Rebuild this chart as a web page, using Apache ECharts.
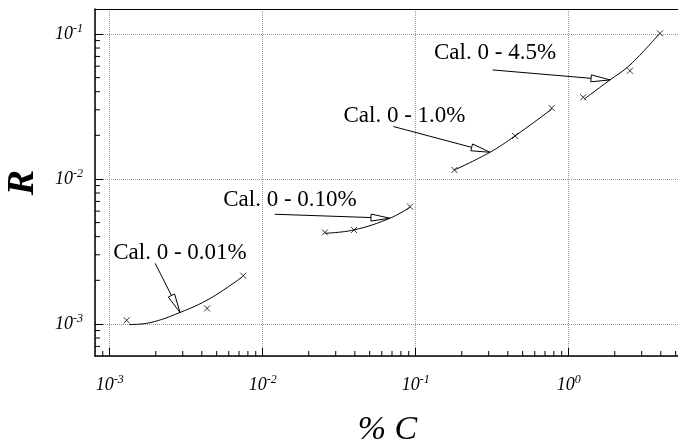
<!DOCTYPE html>
<html>
<head>
<meta charset="utf-8">
<script src="https://cdn.jsdelivr.net/npm/echarts@6/dist/echarts.min.js"></script>
<style>
html, body { margin: 0; padding: 0; background: #fff; }
#chart { width: 678px; height: 447px; }
</style>
</head>
<body>
<div id="chart"></div>
<script>
// measured points (%C, R) for each calibration range
var cal1X = [0.00129, 0.00433, 0.00746]
var cal1R = [0.00106, 0.00128, 0.00215]
var cal2X = [0.0255, 0.0395, 0.0918]
var cal2R = [0.00428, 0.00445, 0.00644]
var cal3X = [0.179, 0.446, 0.774]
var cal3R = [0.01153, 0.01982, 0.0308]
var cal4X = [1.245, 2.515, 3.95]
var cal4R = [0.0366, 0.0558, 0.101]

// fitted curves
var fit1X = [0.00134, 0.00183, 0.00288, 0.00453, 0.00730]
var fit1R = [0.00099, 0.00102, 0.00120, 0.00150, 0.00210]
var fit2X = [0.0255, 0.0395, 0.0679, 0.0918]
var fit2R = [0.00422, 0.00445, 0.00536, 0.00638]
var fit3X = [0.179, 0.306, 0.446, 0.774]
var fit3R = [0.01153, 0.01528, 0.01982, 0.0303]
var fit4X = [1.259, 1.862, 2.515, 3.85]
var fit4R = [0.0355, 0.0482, 0.0611, 0.0984]

// annotations: label centre, arrow tail, arrow tip
var annoText = ['Cal. 0 - 0.01%', 'Cal. 0 - 0.10%', 'Cal. 0 - 1.0%', 'Cal. 0 - 4.5%']
var annoLabel = [[0.00288, 0.00309], [0.01507, 0.00716], [0.0845, 0.0274], [0.330, 0.074]]
var annoTail = [[0.00198, 0.00262], [0.0120, 0.00571], [0.0715, 0.0230], [0.318, 0.0565]]
var annoTip = [[0.00288, 0.00120], [0.0679, 0.00536], [0.306, 0.01528], [1.862, 0.0482]]

// axis ranges and minor ticks
var xMin = 0.000801
var xMax = 5.34
var yMin = 0.000601
var yMax = 0.1487
var xMinorTicks = [0.0009,
  0.002, 0.003, 0.004, 0.005, 0.006, 0.007, 0.008, 0.009,
  0.02, 0.03, 0.04, 0.05, 0.06, 0.07, 0.08, 0.09,
  0.2, 0.3, 0.4, 0.5, 0.6, 0.7, 0.8, 0.9,
  2, 3, 4, 5]
var yMinorTicks = [0.0007, 0.0008, 0.0009,
  0.002, 0.003, 0.004, 0.005, 0.006, 0.007, 0.008, 0.009,
  0.02, 0.03, 0.04, 0.05, 0.06, 0.07, 0.08, 0.09]

var serif = 'Liberation Serif'

function zip(xs, ys) {
  return xs.map(function(x, i) { return [x, ys[i]] })
}

// only label the decades, as 10^n
function powLabel(v) {
  var l = Math.log10(v)
  var e = Math.round(l)
  if (Math.abs(l - e) > 1e-6) return ''
  return '{b|10}{s|' + e + '}'
}

var labelRich = {
  b: { fontFamily: serif, fontStyle: 'italic', fontSize: 18, lineHeight: 22, color: '#000' },
  s: { fontFamily: serif, fontStyle: 'italic', fontSize: 12, lineHeight: 12, verticalAlign: 'top', color: '#000' }
}

function crossSeries(xs, ys) {
  return {
    type: 'scatter',
    data: zip(xs, ys),
    symbol: 'path://M0 0L10 10M10 0L0 10',
    symbolSize: 6,
    itemStyle: { color: 'transparent', borderColor: '#000', borderWidth: 1 },
    z: 4
  }
}

function fitSeries(xs, ys) {
  return {
    type: 'line',
    data: zip(xs, ys),
    smooth: 0.4,
    symbol: 'none',
    lineStyle: { color: '#000', width: 1 },
    z: 3
  }
}

var chart = echarts.init(document.getElementById('chart'))
chart.setOption({
  animation: false,
  backgroundColor: '#fff',
  grid: { left: 95, right: -2, top: 9, bottom: 91, outerBoundsMode: 'none' },
  xAxis: [{
    type: 'log',
    min: xMin,
    max: xMax,
    name: '% C',
    nameLocation: 'middle',
    nameGap: 57,
    nameTextStyle: { fontFamily: serif, fontStyle: 'italic', fontSize: 34, color: '#000' },
    axisLine: { lineStyle: { color: '#000', width: 1.5 } },
    axisTick: { inside: true, length: 8, lineStyle: { color: '#000' } },
    axisLabel: { formatter: powLabel, rich: labelRich, margin: 18, showMinLabel: false, showMaxLabel: false },
    splitLine: { show: true, lineStyle: { color: '#999', type: 'dotted', width: 1 } }
  }, {
    type: 'value',
    position: 'top',
    min: 0,
    max: 1,
    axisLine: { show: true, onZero: false, lineStyle: { color: '#000', width: 1.2 } },
    axisTick: { show: false },
    axisLabel: { show: false },
    splitLine: { show: false }
  }],
  yAxis: {
    type: 'log',
    min: yMin,
    max: yMax,
    name: 'R',
    nameLocation: 'middle',
    nameRotate: 90,
    nameGap: 53,
    nameTextStyle: { fontFamily: serif, fontStyle: 'italic', fontWeight: 'bold', fontSize: 38, color: '#000' },
    axisLine: { show: true, lineStyle: { color: '#000', width: 1.5 } },
    axisTick: { inside: true, length: 8, lineStyle: { color: '#000' } },
    axisLabel: { formatter: powLabel, rich: labelRich, margin: 12, showMinLabel: false, showMaxLabel: false },
    splitLine: { show: true, lineStyle: { color: '#999', type: 'dotted', width: 1 } }
  },
  series: [
    fitSeries(fit1X, fit1R),
    fitSeries(fit2X, fit2R),
    fitSeries(fit3X, fit3R),
    fitSeries(fit4X, fit4R),
    crossSeries(cal1X, cal1R),
    crossSeries(cal2X, cal2R),
    crossSeries(cal3X, cal3R),
    crossSeries(cal4X, cal4R),
    {
      // minor ticks on the bottom axis
      type: 'custom',
      clip: false,
      data: xMinorTicks.map(function(v) { return [v, yMin] }),
      renderItem: function(params, api) {
        var p = api.coord([api.value(0), api.value(1)])
        return { type: 'line', shape: { x1: p[0], y1: p[1], x2: p[0], y2: p[1] - 5 }, style: { stroke: '#000', lineWidth: 1 } }
      }
    },
    {
      // minor ticks on the left axis
      type: 'custom',
      clip: false,
      data: yMinorTicks.map(function(v) { return [xMin, v] }),
      renderItem: function(params, api) {
        var p = api.coord([api.value(0), api.value(1)])
        return { type: 'line', shape: { x1: p[0], y1: p[1], x2: p[0] + 5, y2: p[1] }, style: { stroke: '#000', lineWidth: 1 } }
      }
    },
    {
      // labels with hollow-head arrows
      type: 'custom',
      clip: false,
      z: 5,
      data: annoTip,
      renderItem: function(params, api) {
        var i = params.dataIndex
        var tail = api.coord(annoTail[i])
        var tip = api.coord(annoTip[i])
        var lab = api.coord(annoLabel[i])
        var dx = tip[0] - tail[0]
        var dy = tip[1] - tail[1]
        var len = Math.sqrt(dx * dx + dy * dy)
        var ux = dx / len
        var uy = dy / len
        var headLen = 19
        var hw = 3.5
        var bx = tip[0] - ux * headLen
        var by = tip[1] - uy * headLen
        return {
          type: 'group',
          children: [
            { type: 'line', shape: { x1: tail[0], y1: tail[1], x2: bx, y2: by }, style: { stroke: '#000', lineWidth: 1 } },
            { type: 'polygon', shape: { points: [tip, [bx - uy * hw, by + ux * hw], [bx + uy * hw, by - ux * hw]] }, style: { fill: '#fff', stroke: '#000', lineWidth: 1 } },
            { type: 'text', x: lab[0], y: lab[1], style: { text: annoText[i], fontFamily: serif, fontSize: 23, fill: '#000', align: 'center', verticalAlign: 'middle' } }
          ]
        }
      }
    }
  ]
})
</script>
</body>
</html>
